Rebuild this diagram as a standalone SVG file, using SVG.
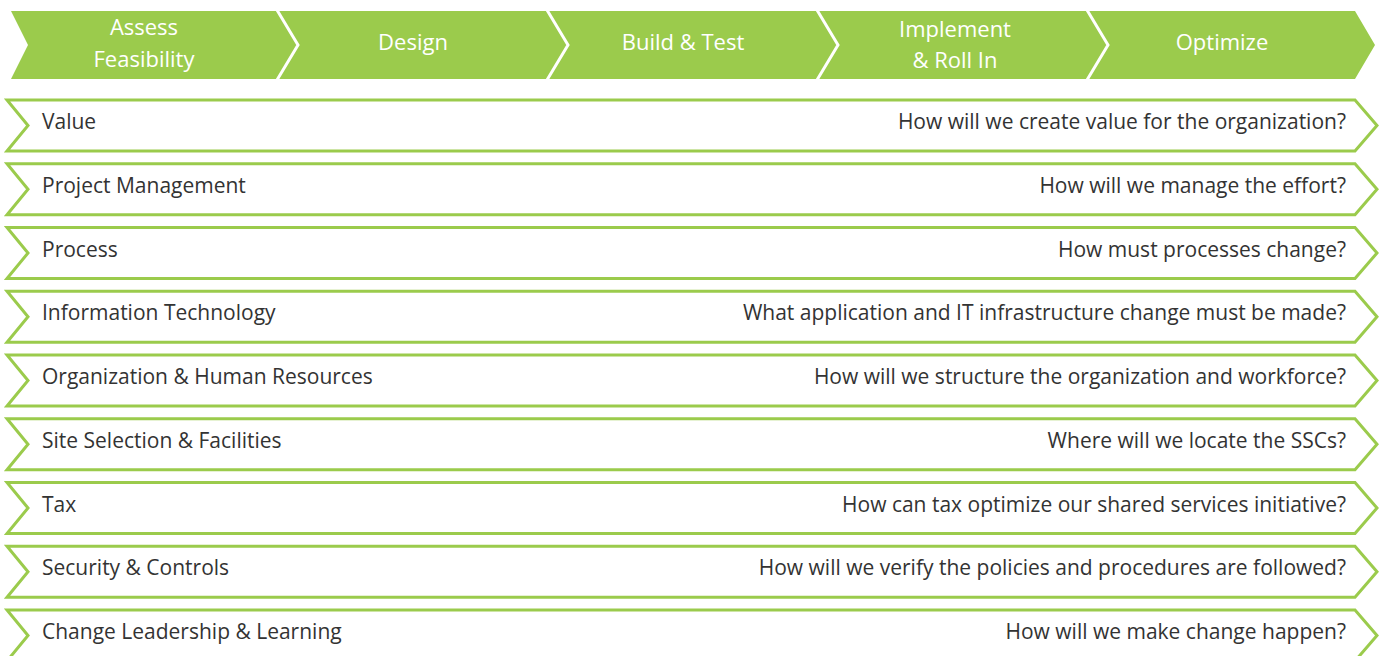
<svg xmlns="http://www.w3.org/2000/svg" width="1380" height="656" viewBox="0 0 1380 656">
<style>
.band{fill:#9BCB4C}
.sep{fill:none;stroke:#FFFFFF;stroke-width:3}
.ph{font-family:"Open Sans","Noto Sans",sans-serif;font-size:22px;fill:#FFFFFF;text-anchor:middle}
.row{fill:#FFFFFF;stroke:#9BCB4C;stroke-width:3}
.lt{font-family:"Open Sans","Noto Sans",sans-serif;font-size:21px;fill:#333333}
.rt{font-family:"Open Sans","Noto Sans",sans-serif;font-size:21px;fill:#333333;text-anchor:end}
</style>
<rect width="1380" height="656" fill="#FFFFFF"/>
<g id="phases">
<polygon class="band" points="11,11 1355,11 1375,45 1355,79 11,79 28,45"/>
<polyline class="sep" points="277,10 298,45 277,80"/>
<polyline class="sep" points="547,10 568,45 547,80"/>
<polyline class="sep" points="817,10 838,45 817,80"/>
<polyline class="sep" points="1087,10 1108,45 1087,80"/>
</g>
<g id="phase-assess"><text class="ph" x="144" y="35">Assess</text><text class="ph" x="144" y="67">Feasibility</text></g>
<g id="phase-design"><text class="ph" x="413" y="50">Design</text></g>
<g id="phase-build"><text class="ph" x="683" y="50">Build &amp; Test</text></g>
<g id="phase-implement"><text class="ph" x="955" y="37">Implement</text><text class="ph" x="955" y="68">&amp; Roll In</text></g>
<g id="phase-optimize"><text class="ph" x="1222" y="50">Optimize</text></g>
<g id="connectors"></g>
<g id="row-value"><polygon class="row" points="7,100 1355,100 1377,125.5 1355,151 7,151 28,125.5"/><text class="lt" x="42" y="129">Value</text><text class="rt" x="1346" y="129">How will we create value for the organization?</text></g>
<g id="row-pm"><polygon class="row" points="7,163.75 1355,163.75 1377,189.25 1355,214.75 7,214.75 28,189.25"/><text class="lt" x="42" y="192.75">Project Management</text><text class="rt" x="1346" y="192.75">How will we manage the effort?</text></g>
<g id="row-process"><polygon class="row" points="7,227.5 1355,227.5 1377,253 1355,278.5 7,278.5 28,253"/><text class="lt" x="42" y="256.5">Process</text><text class="rt" x="1346" y="256.5">How must processes change?</text></g>
<g id="row-it"><polygon class="row" points="7,291.25 1355,291.25 1377,316.75 1355,342.25 7,342.25 28,316.75"/><text class="lt" x="42" y="320.25">Information Technology</text><text class="rt" x="1346" y="320.25">What application and IT infrastructure change must be made?</text></g>
<g id="row-org"><polygon class="row" points="7,355 1355,355 1377,380.5 1355,406 7,406 28,380.5"/><text class="lt" x="42" y="384">Organization &amp; Human Resources</text><text class="rt" x="1346" y="384">How will we structure the organization and workforce?</text></g>
<g id="row-site"><polygon class="row" points="7,418.75 1355,418.75 1377,444.25 1355,469.75 7,469.75 28,444.25"/><text class="lt" x="42" y="447.75">Site Selection &amp; Facilities</text><text class="rt" x="1346" y="447.75">Where will we locate the SSCs?</text></g>
<g id="row-tax"><polygon class="row" points="7,482.5 1355,482.5 1377,508 1355,533.5 7,533.5 28,508"/><text class="lt" x="42" y="511.5">Tax</text><text class="rt" x="1346" y="511.5">How can tax optimize our shared services initiative?</text></g>
<g id="row-security"><polygon class="row" points="7,546.25 1355,546.25 1377,571.75 1355,597.25 7,597.25 28,571.75"/><text class="lt" x="42" y="575.25">Security &amp; Controls</text><text class="rt" x="1346" y="575.25">How will we verify the policies and procedures are followed?</text></g>
<g id="row-change"><polygon class="row" points="7,610 1355,610 1377,635.5 1355,661 7,661 28,635.5"/><text class="lt" x="42" y="639">Change Leadership &amp; Learning</text><text class="rt" x="1346" y="639">How will we make change happen?</text></g>
</svg>
